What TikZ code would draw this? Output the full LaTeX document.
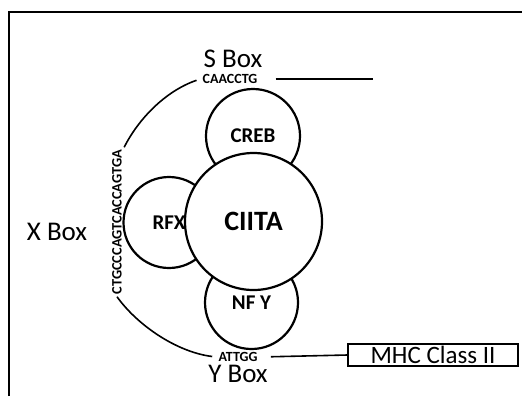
\documentclass[tikz,border=0pt]{standalone}
\usepackage{fontspec}
\setmainfont{Carlito}
\usetikzlibrary{positioning}

\begin{document}
\begin{tikzpicture}[
  x=0.5pt, y=-0.5pt,
  c/.style={draw, circle, line width=1.1pt, fill=white, inner sep=0pt, font=\fontsize{10.5}{11}\selectfont\bfseries},
  big/.style={c, font=\fontsize{14}{15}\selectfont\bfseries},
  lab/.style={font=\fontsize{13.5}{14}\selectfont, inner sep=0pt},
  seq/.style={font=\fontsize{7}{7}\selectfont\bfseries, inner sep=1pt},
  ln/.style={line width=0.8pt}]

\useasboundingbox (0,0) rectangle (522,396);

% frame
\coordinate (fbl) at (9,396);
\coordinate (ftl) at (9,11.5);
\coordinate (ftr) at (522,11.5);
\draw[line width=1pt] (fbl) -- (ftl) -- (ftr);

% factors
\node[c, minimum size=47pt] (creb) at (253,136) {CREB};
\node[c, minimum size=45.5pt] (rfx) at (169,222.5) {RFX};
\node[c, minimum size=46.5pt] (nfy) at (251.5,302.5) {NF Y};
\node[big, minimum size=68.5pt] (ciita) at (253.5,221.5) {CIITA};

% boxes and sequences
\node[lab] (sbox) at (233,59) {S Box};
\node[seq] (sseq) at (230,79) {CAACCTG};
\coordinate (send) at (373,79);
\node[lab] (xbox) at (57,232) {X Box};
\node[seq, rotate=90, font=\fontsize{7.2}{8}\selectfont\bfseries] (xseq) at (117,222) {CTGCCCAGTCACCAGTGA};
\node[seq] (yseq) at (238,357) {ATTGG};
\node[lab] (ybox) at (238,374) {Y Box};
\node[draw, line width=0.8pt, font=\fontsize{12.5}{13}\selectfont, inner sep=1pt,
      minimum width=85pt, minimum height=11pt] (mhc) at (433,355) {MHC Class II};

\draw[ln, shorten <=8pt] (sseq.east) -- (send);
\draw[ln, shorten <=5.5pt] (yseq.east) -- (mhc.west);
\draw[ln, shorten <=2pt] (sseq.west) .. controls +(-35,12) and +(14,-28) .. (xseq.south east);
\draw[ln, shorten >=2pt] (xseq.west) .. controls +(20,28) and +(-40,-5) .. (yseq.west);
\end{tikzpicture}
\end{document}
